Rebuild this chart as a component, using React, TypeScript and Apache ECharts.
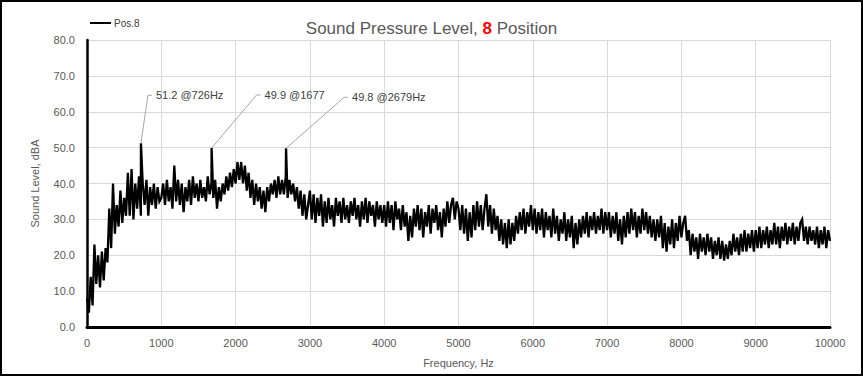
import { useEffect, useRef } from "react";
import * as echarts from "echarts";

// Frequency step of the sampled spectrum (Hz)
const STEP = 25;

// Sound level (dBA) per 25 Hz, one array per 1000 Hz band
const band0 = [8, 4, 14, 6, 23, 12, 20, 11, 21, 13, 22, 18, 33, 22, 40, 26, 34, 28, 38, 29, 36, 31, 43, 31, 44, 30, 40, 33, 42, 31, 40, 34, 41, 31, 39, 34, 40, 33, 39, 35];
const band1 = [36, 40, 34, 41, 35, 39, 33, 45, 35, 41, 34, 40, 32, 39, 35, 41, 34, 42, 36, 40, 35, 41, 36, 39, 35, 42, 37, 40, 36, 41, 33, 39, 35, 40, 37, 42, 38, 43, 39, 44];
const band2 = [40, 46, 41, 46, 40, 45, 38, 43, 36, 41, 34, 40, 35, 39, 33, 38, 32, 39, 35, 40, 37, 41, 36, 42, 37, 41, 37, 42, 36, 41, 37, 40, 35, 39, 33, 38, 31, 37, 30, 34];
const band3 = [38, 30, 37, 29, 36, 31, 37, 28, 35, 29, 36, 30, 34, 28, 36, 31, 35, 29, 36, 30, 34, 29, 35, 31, 36, 30, 34, 28, 35, 30, 36, 29, 35, 31, 34, 28, 35, 30, 34, 29];
const band4 = [34, 28, 35, 29, 34, 27, 35, 30, 33, 27, 34, 28, 32, 24, 31, 25, 33, 28, 34, 27, 33, 25, 32, 28, 34, 26, 33, 29, 34, 27, 32, 25, 33, 28, 35, 29, 34, 36, 30, 35];
const band5 = [33, 27, 34, 26, 33, 24, 32, 25, 34, 27, 35, 28, 34, 27, 33, 37, 28, 34, 26, 33, 27, 31, 24, 30, 23, 29, 22, 30, 23, 29, 24, 31, 26, 32, 27, 33, 26, 32, 28, 34];
const band6 = [27, 33, 26, 32, 27, 33, 25, 32, 27, 31, 25, 33, 26, 31, 24, 30, 26, 32, 24, 30, 25, 31, 22, 29, 23, 30, 25, 31, 26, 32, 25, 31, 27, 32, 26, 31, 27, 33, 26, 32];
const band7 = [27, 32, 25, 31, 26, 32, 24, 30, 23, 31, 25, 32, 26, 33, 27, 32, 25, 31, 26, 33, 27, 32, 26, 31, 25, 30, 24, 30, 25, 31, 22, 29, 21, 28, 23, 30, 22, 29, 24, 31];
const band8 = [25, 29, 31, 24, 27, 20, 26, 21, 25, 19, 26, 21, 25, 20, 26, 21, 25, 19, 24, 20, 25, 19, 24, 18.5, 23, 19, 24, 20, 26, 21, 25, 20, 26, 21, 27, 21, 26, 22, 27, 21];
const band9 = [27, 22, 28, 22, 27, 23, 28, 22, 27, 23, 29, 23, 28, 22, 28, 24, 29, 23, 28, 24, 29, 23, 28, 24, 29, 30, 24, 28, 23, 28, 24, 27, 23, 28, 22, 27, 23, 28, 22, 27, 24];

// Annotated tonal peaks
const peakFreqs = [726, 1677, 2679];
const peakValues = [51.2, 49.9, 49.8];
const peakLabels = ["51.2 @726Hz", "49.9 @1677", "49.8 @2679Hz"];

const seriesName = "Pos.8";

export default function App() {
  const ref = useRef<HTMLDivElement>(null);

  useEffect(() => {
    if (!ref.current) return;
    const chart = echarts.init(ref.current, undefined, { renderer: "svg" });

    const levels = [...band0, ...band1, ...band2, ...band3, ...band4, ...band5, ...band6, ...band7, ...band8, ...band9];
    const pts: [number, number][] = levels.map((v, i) => [i * STEP, v]);
    peakFreqs.forEach((f, i) => pts.push([f, peakValues[i]]));
    pts.sort((a, b) => a[0] - b[0]);

    const font = "'Liberation Sans', Arial, sans-serif";

    chart.setOption({
      animation: false,
      backgroundColor: "transparent",
      textStyle: { fontFamily: font },
      title: {
        left: "center",
        top: 15,
        text: "{a|Sound Pressure Level, }{b|8}{a| Position}",
        textStyle: {
          fontWeight: "normal",
          rich: {
            a: { fontSize: 17, color: "#595959", fontWeight: "normal", fontFamily: font },
            b: { fontSize: 17, color: "#ff0000", fontWeight: "bold", fontFamily: font },
          },
        },
      },
      legend: {
        left: 90,
        top: 18,
        padding: 0,
        data: [seriesName],
        icon: "rect",
        itemWidth: 21,
        itemHeight: 2,
        textStyle: { fontSize: 10, color: "#404040", padding: [0, 0, 0, -2] },
      },
      grid: { left: 87, right: 33, top: 40, bottom: 49 },
      xAxis: {
        type: "value",
        min: 0,
        max: 10000,
        interval: 1000,
        name: "Frequency, Hz",
        nameLocation: "middle",
        nameGap: 30,
        nameTextStyle: { fontSize: 11, color: "#595959" },
        axisLine: { show: true, lineStyle: { color: "#000", width: 3 } },
        axisTick: { show: false },
        axisLabel: { fontSize: 11, color: "#595959", margin: 10, formatter: (v: number) => String(v) },
        splitLine: { show: true, lineStyle: { color: "#d9d9d9", width: 1 } },
      },
      yAxis: {
        type: "value",
        min: 0,
        max: 80,
        interval: 10,
        name: "Sound Level, dBA",
        nameLocation: "middle",
        nameGap: 47,
        nameTextStyle: { fontSize: 11, color: "#595959" },
        axisLine: { show: true, lineStyle: { color: "#000", width: 2.5 } },
        axisTick: { show: false },
        axisLabel: { fontSize: 11, color: "#595959", margin: 12, formatter: (v: number) => v.toFixed(1) },
        splitLine: { show: true, lineStyle: { color: "#d9d9d9", width: 1 } },
      },
      series: [
        {
          name: seriesName,
          type: "line",
          data: pts,
          showSymbol: false,
          symbol: "none",
          lineStyle: { color: "#000", width: 2.3, join: "miter" },
          itemStyle: { color: "#000" },
          z: 3,
        },
      ],
    });

    // Leader-line offsets (px) of the annotation labels from each peak
    const offsets = [
      [7, -48],
      [45, -53],
      [58, -51],
    ];
    const graphics: any[] = [];
    peakFreqs.forEach((f, i) => {
      const p = chart.convertToPixel({ gridIndex: 0 }, [f, peakValues[i]]) as number[];
      const ex = p[0] + offsets[i][0];
      const ey = p[1] + offsets[i][1];
      graphics.push({
        type: "polyline",
        shape: { points: [[p[0], p[1]], [ex, ey], [ex + 4, ey]] },
        style: { stroke: "#a6a6a6", lineWidth: 1, fill: null },
        z: 10,
      });
      graphics.push({
        type: "text",
        x: ex + 8,
        y: ey,
        style: { text: peakLabels[i], fontSize: 11, fill: "#404040", fontFamily: font, verticalAlign: "middle" },
        z: 10,
      });
    });
    chart.setOption({ graphic: graphics });

    return () => chart.dispose();
  }, []);

  return (
    <div
      style={{
        position: "fixed",
        left: 0,
        top: 0,
        width: 863,
        height: 376,
        boxSizing: "border-box",
        border: "2px solid #000",
        background: "#fff",
      }}
    >
      <div ref={ref} style={{ position: "absolute", left: -2, top: -2, width: 863, height: 376 }} />
    </div>
  );
}
